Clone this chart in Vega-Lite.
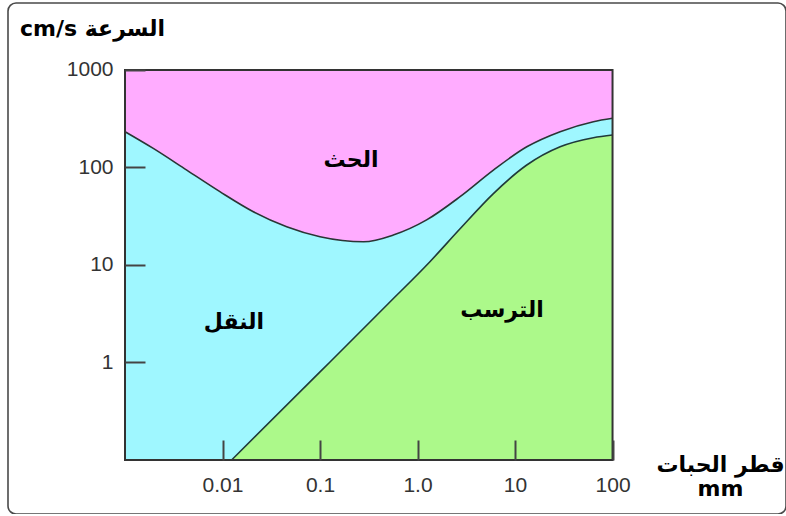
{
  "$schema": "https://vega.github.io/schema/vega-lite/v6.json",
  "width": 778,
  "height": 511,
  "autosize": "none",
  "padding": {"left": 8, "top": 3, "right": 0, "bottom": 0},
  "background": "white",
  "config": {
    "view": {"stroke": "#4a4a4a", "strokeWidth": 1.6, "cornerRadius": 8},
    "font": "Liberation Sans"
  },
  "datasets": {
    "erosion": [
      {"d": 0.001, "v": 233},
      {"d": 0.00195, "v": 157},
      {"d": 0.0043, "v": 94},
      {"d": 0.0094, "v": 56.5},
      {"d": 0.0207, "v": 35.2},
      {"d": 0.0455, "v": 24.7},
      {"d": 0.1, "v": 19.5},
      {"d": 0.28, "v": 17.3},
      {"d": 0.565, "v": 20.3},
      {"d": 1.24, "v": 29},
      {"d": 2.73, "v": 50.2},
      {"d": 6.0, "v": 94},
      {"d": 13.2, "v": 163},
      {"d": 29, "v": 233},
      {"d": 63.6, "v": 295},
      {"d": 100, "v": 320}
    ],
    "deposition": [
      {"d": 0.0124, "v": 0.1},
      {"d": 0.1, "v": 0.8},
      {"d": 0.5, "v": 4},
      {"d": 1.34, "v": 10.8},
      {"d": 2.73, "v": 23.5},
      {"d": 6.0, "v": 54},
      {"d": 13.2, "v": 106},
      {"d": 29, "v": 163},
      {"d": 63.6, "v": 202},
      {"d": 100, "v": 215}
    ],
    "labels": [
      {"d": 0.208, "v": 119, "text": "الحث"},
      {"d": 0.0131, "v": 2.6, "text": "النقل"},
      {"d": 7.36, "v": 3.45, "text": "الترسب"}
    ]
  },
  "layer": [
    {
      "data": {"values": [{}]},
      "mark": {"type": "rect", "fill": "#FFACFF", "strokeWidth": 0},
      "encoding": {
        "x": {"datum": 0.001, "type": "quantitative", "title": ["قطر الحبات", "mm"]},
        "x2": {"datum": 100},
        "y": {"datum": 0.1, "type": "quantitative", "title": "cm/s السرعة"},
        "y2": {"datum": 1000}
      }
    },
    {
      "data": {"name": "erosion"},
      "mark": {"type": "area", "fill": "#9FF7FF", "interpolate": "monotone"},
      "encoding": {
        "x": {
          "field": "d",
          "type": "quantitative",
          "title": ["قطر الحبات", "mm"],
          "scale": {"type": "log", "domain": [0.0000631, 6012], "nice": false, "zero": false},
          "axis": {
            "values": [0.01, 0.1, 1, 10, 100],
            "offset": -54,
            "zindex": 1,
            "domain": false,
            "grid": false,
            "tickSize": -20,
            "tickColor": "#444",
            "tickWidth": 2,
            "labelFontSize": 21,
            "labelColor": "#333",
            "labelPadding": 34,
            "labelFlush": false,
            "labelOverlap": false,
            "labelExpr": "datum.value == 1 ? '1.0' : (datum.value < 1 ? format(datum.value, '.2~f') : format(datum.value, 'd'))",
            "titleX": 712,
            "titleY": -6,
            "titleAlign": "center",
            "titleBaseline": "top",
            "titleFont": "DejaVu Sans",
            "titleFontWeight": "bold",
            "titleFontSize": 22,
            "titleLineHeight": 24,
            "titleColor": "black"
          }
        },
        "y": {
          "field": "v",
          "type": "quantitative",
          "title": "cm/s السرعة",
          "scale": {"type": "log", "domain": [0.02793, 4864], "nice": false, "zero": false},
          "axis": {
            "values": [1, 10, 100, 1000],
            "offset": -117,
            "zindex": 1,
            "domain": false,
            "grid": false,
            "format": "d",
            "tickSize": -20,
            "tickColor": "#444",
            "tickWidth": 2,
            "labelFontSize": 21,
            "labelColor": "#333",
            "labelPadding": 32,
            "labelFlush": false,
            "labelOverlap": false,
            "titleAngle": 0,
            "titleX": -33,
            "titleY": 25,
            "titleAlign": "center",
            "titleBaseline": "middle",
            "titleFont": "DejaVu Sans",
            "titleFontWeight": "bold",
            "titleFontSize": 22,
            "titleColor": "black"
          }
        },
        "y2": {"datum": 0.1}
      }
    },
    {
      "data": {"name": "deposition"},
      "mark": {"type": "area", "fill": "#ACF98A", "interpolate": "monotone"},
      "encoding": {
        "x": {"field": "d", "type": "quantitative", "title": ["قطر الحبات", "mm"]},
        "y": {"field": "v", "type": "quantitative", "title": "cm/s السرعة"},
        "y2": {"datum": 0.1}
      }
    },
    {
      "data": {"name": "erosion"},
      "mark": {"type": "line", "color": "#2a3535", "strokeWidth": 1.6, "interpolate": "monotone"},
      "encoding": {
        "x": {"field": "d", "type": "quantitative", "title": ["قطر الحبات", "mm"]},
        "y": {"field": "v", "type": "quantitative", "title": "cm/s السرعة"}
      }
    },
    {
      "data": {"name": "deposition"},
      "mark": {"type": "line", "color": "#1f3a3a", "strokeWidth": 1.6, "interpolate": "monotone"},
      "encoding": {
        "x": {"field": "d", "type": "quantitative", "title": ["قطر الحبات", "mm"]},
        "y": {"field": "v", "type": "quantitative", "title": "cm/s السرعة"}
      }
    },
    {
      "data": {"values": [{}]},
      "mark": {"type": "rect", "fillOpacity": 0, "stroke": "#333", "strokeWidth": 2},
      "encoding": {
        "x": {"datum": 0.001, "type": "quantitative", "title": ["قطر الحبات", "mm"]},
        "x2": {"datum": 100},
        "y": {"datum": 0.1, "type": "quantitative", "title": "cm/s السرعة"},
        "y2": {"datum": 1000}
      }
    },
    {
      "data": {"name": "labels"},
      "mark": {"type": "text", "font": "DejaVu Sans", "fontWeight": "bold", "fontSize": 22, "color": "black", "align": "center", "baseline": "middle"},
      "encoding": {
        "x": {"field": "d", "type": "quantitative", "title": ["قطر الحبات", "mm"]},
        "y": {"field": "v", "type": "quantitative", "title": "cm/s السرعة"},
        "text": {"field": "text"}
      }
    }
  ]
}
